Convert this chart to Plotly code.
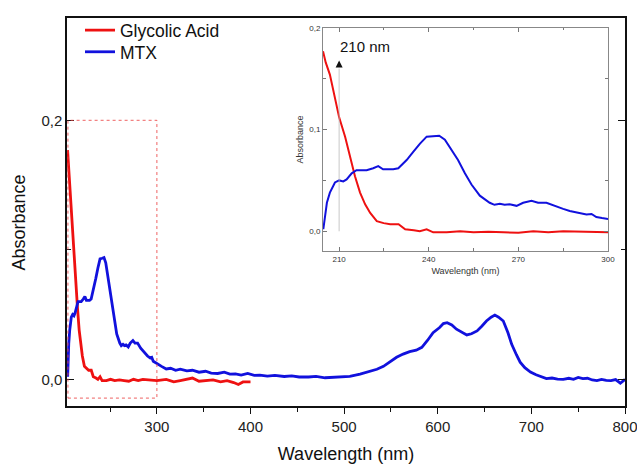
import plotly.graph_objects as go

# ---- data ----
mtx_nm = [204.7, 205.3, 205.9, 206.9, 207.8, 208.6, 210.0, 211.4, 212.5, 214.2, 215.8, 217.5, 219.2,
          221.4, 223.1, 224.7, 226.4, 228.1, 229.8, 231.2, 232.6, 234.8, 237.0, 239.3, 241.5, 243.5,
          245.4, 247.6, 249.8, 252.1, 254.3, 257.1, 260.4, 262.0, 263.8, 265.4, 267.1, 269.4, 271.6,
          274.4, 276.6, 279.4, 282.7, 285.0, 287.2, 290.0, 292.8, 294.5, 296.1, 298.0, 300.0,
          305, 310, 314.7, 320, 325, 332, 338, 345, 352, 358, 365, 372, 378, 384, 390, 397, 404, 410,
          418, 426, 436, 444, 452, 462, 470, 479.6, 485, 495, 506, 517, 528, 535, 542, 549, 556, 563,
          570, 577, 583, 589, 595, 602, 606, 610, 615, 620, 626, 631, 636, 642, 647, 652, 657, 661,
          665, 670, 675, 679, 684, 688, 693, 699, 705, 710, 716, 722, 728, 734, 740, 745, 750, 755,
          760, 765, 770, 775, 780, 785, 790, 795, 800]
mtx_abs = [0.002, 0.018, 0.028, 0.038, 0.044, 0.048, 0.050, 0.049, 0.051, 0.057, 0.060, 0.060, 0.060,
           0.062, 0.064, 0.061, 0.061, 0.061, 0.062, 0.066, 0.070, 0.078, 0.086, 0.093, 0.0935, 0.094,
           0.090, 0.080, 0.070, 0.057, 0.046, 0.035, 0.028, 0.026, 0.027, 0.026, 0.0265, 0.025, 0.028,
           0.030, 0.028, 0.028, 0.024, 0.022, 0.020, 0.018, 0.0165, 0.017, 0.014, 0.013, 0.012,
           0.010, 0.008, 0.0085, 0.007, 0.0078, 0.0065, 0.007, 0.0055, 0.0062, 0.0048, 0.0045, 0.0055,
           0.004, 0.0042, 0.0032, 0.0045, 0.0030, 0.0032, 0.0025, 0.003, 0.0022, 0.0026, 0.0018,
           0.0018, 0.0022, 0.0012, 0.0015, 0.002, 0.0023, 0.004, 0.006, 0.0078, 0.010, 0.0135, 0.017,
           0.0195, 0.0214, 0.0225, 0.0247, 0.030, 0.036, 0.040, 0.043, 0.0437, 0.042, 0.0387, 0.036,
           0.0343, 0.0352, 0.0374, 0.041, 0.045, 0.048, 0.0496, 0.048, 0.045, 0.036, 0.027, 0.019,
           0.0132, 0.009, 0.0056, 0.0035, 0.002, 0.0005, 0.001, 0.0002, 0.0, 0.0008, 0.0, 0.0015,
           0.0005, 0.0008, -0.0005, -0.001, 0.0, -0.0008, -0.001, -0.0002, -0.003, 0.0]

ga_nm = [204.6, 205.5, 206.9, 208.6, 210, 212, 213.6, 215.3, 217, 218.7, 220.4, 222.6, 224.9, 227.1,
         229.9, 232.1, 235, 237, 239.3, 241.5, 246, 250.5, 255, 260, 265, 270, 275, 280, 285, 290,
         295, 300, 310, 318, 325, 332, 338, 345, 352, 360, 368, 375, 382, 387, 392, 400]
ga_abs = [0.177, 0.166, 0.154, 0.132, 0.112, 0.093, 0.073, 0.054, 0.038, 0.0265, 0.018, 0.010, 0.008,
          0.007, 0.007, 0.002, 0.001, 0.000, 0.002, -0.001, -0.001, 0.000, -0.001, -0.0005, -0.001,
          -0.0015, 0.000, -0.001, 0.000, -0.0005, -0.001, -0.001, 0.000, -0.002, -0.001, 0.000,
          0.001, -0.0015, -0.001, -0.0005, -0.002, -0.001, -0.0025, -0.004, -0.002, -0.002]

main_xticks = [300, 400, 500, 600, 700, 800]
inset_xticks = [210, 240, 270, 300]

RED = "#ee1111"
BLUE = "#1111dd"
FONT = "Liberation Sans, Arial, sans-serif"
XR = [204, 800]

fig = go.Figure()
fig.add_trace(go.Scatter(x=ga_nm, y=ga_abs, mode="lines", name="Glycolic Acid", legend="legend",
                         line=dict(color=RED, width=2.8), xaxis="x", yaxis="y"))
fig.add_trace(go.Scatter(x=mtx_nm, y=mtx_abs, mode="lines", name="MTX", legend="legend2",
                         line=dict(color=BLUE, width=2.8), xaxis="x", yaxis="y"))
fig.add_trace(go.Scatter(x=ga_nm, y=ga_abs, mode="lines", showlegend=False,
                         line=dict(color=RED, width=2), xaxis="x2", yaxis="y2"))
fig.add_trace(go.Scatter(x=mtx_nm, y=mtx_abs, mode="lines", showlegend=False,
                         line=dict(color=BLUE, width=2), xaxis="x2", yaxis="y2"))

leg_common = dict(xanchor="left", yanchor="top", font=dict(size=17.5, color="#111"),
                  bgcolor="rgba(0,0,0,0)", itemwidth=30)

fig.update_layout(
    width=637, height=464,
    margin=dict(l=67, r=12, t=13, b=58),
    paper_bgcolor="white", plot_bgcolor="white",
    font=dict(family=FONT, color="#222"),
    separators=",.",
    legend=dict(x=0.0233, y=1.015, **leg_common),
    legend2=dict(x=0.0233, y=0.959, **leg_common),
    xaxis=dict(range=XR, domain=[0, 1], tickvals=main_xticks, automargin=False,
               ticklabeloverflow="allow",
               ticks="outside", ticklen=6, tickwidth=1.3, tickcolor="#111",
               showline=True, linecolor="#111", linewidth=1.5, mirror=True,
               showgrid=False, zeroline=False, tickfont=dict(size=15, color="#222"),
               minor=dict(dtick=50, tick0=0, ticks="outside", ticklen=4, tickcolor="#111"),
               title=dict(text="Wavelength (nm)", font=dict(size=18, color="#111"), standoff=14)),
    xaxis3=dict(range=XR, overlaying="x", side="top", anchor="y", tickvals=main_xticks,
                automargin=False, showticklabels=False, ticks="inside", ticklen=7,
                tickwidth=1.3, tickcolor="#111", showline=False, showgrid=False, zeroline=False,
                minor=dict(dtick=50, tick0=0, ticks="inside", ticklen=4, tickcolor="#111")),
    yaxis=dict(range=[-0.0206, 0.279], domain=[0, 1], dtick=0.2, tick0=0, tickformat=".1f",
               automargin=False, ticks="inside", ticklen=7, tickwidth=1.3, tickcolor="#111",
               showline=True, linecolor="#111", linewidth=1.5, mirror="ticks",
               showgrid=False, zeroline=False, tickfont=dict(size=15, color="#222"),
               minor=dict(dtick=0.1, tick0=0, ticks="inside", ticklen=4, tickcolor="#111")),
    xaxis2=dict(range=[204.6, 300], domain=[0.4588, 0.9695], anchor="y2", automargin=False,
                tickvals=inset_xticks, ticks="inside", ticklen=4, tickcolor="#777",
                showline=True, linecolor="#888", linewidth=1, mirror="ticks", showgrid=False,
                zeroline=False, tickfont=dict(size=8, color="#333"),
                minor=dict(dtick=15, tick0=210, ticks="inside", ticklen=2.5, tickcolor="#777"),
                title=dict(text="Wavelength (nm)", font=dict(size=9, color="#333"), standoff=5)),
    yaxis2=dict(range=[-0.0194, 0.2], domain=[0.3995, 0.9746], anchor="x2", automargin=False,
                dtick=0.1, tick0=0, tickformat=".1f", ticks="inside", ticklen=4, tickcolor="#777",
                showline=True, linecolor="#888", linewidth=1, mirror="ticks", showgrid=False,
                zeroline=False, tickfont=dict(size=8, color="#333"),
                minor=dict(dtick=0.05, tick0=0, ticks="inside", ticklen=2.5, tickcolor="#777"),
                title=dict(text="Absorbance", font=dict(size=9, color="#333"), standoff=4)),
)

# main y-axis title (placed like the reference, slightly below centre)
fig.add_annotation(xref="paper", yref="paper", x=-0.086, y=0.473, text="Absorbance",
                   textangle=-90, showarrow=False, xanchor="center", yanchor="middle",
                   font=dict(size=18, color="#111"))
# inset white background
fig.add_shape(type="rect", xref="x2 domain", yref="y2 domain", x0=0, x1=1, y0=0, y1=1,
              fillcolor="white", line=dict(width=0), layer="below")
# dashed zoom rectangle
fig.add_shape(type="rect", xref="x", yref="y", x0=205, x1=300, y0=-0.0145, y1=0.2,
              line=dict(color="rgba(235,70,70,0.85)", width=1, dash="dot"), layer="above")
# 210 nm marker line in inset
fig.add_shape(type="line", xref="x2", yref="y2", x0=210, x1=210, y0=0.0, y1=0.16,
              line=dict(color="#bbbbbb", width=0.8))
fig.add_annotation(xref="x2", yref="y2", x=210, y=0.168, axref="x2", ayref="y2", ax=210, ay=0.16,
                   text="", showarrow=True, arrowhead=2, arrowsize=1.4, arrowwidth=1,
                   arrowcolor="#111")
fig.add_annotation(xref="x2", yref="y2", x=209.6, y=0.1816, text="210 nm", showarrow=False,
                   xanchor="left", yanchor="middle", font=dict(size=15, color="#111"))

fig.write_html("out.html")
